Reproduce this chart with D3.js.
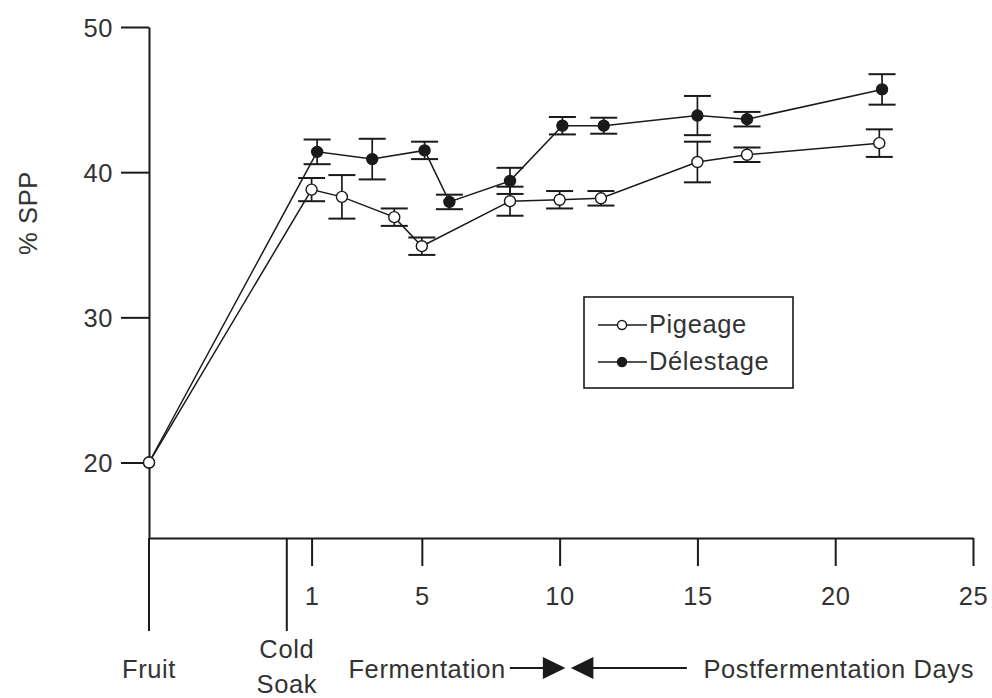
<!DOCTYPE html>
<html>
<head>
<meta charset="utf-8">
<script src="https://cdn.jsdelivr.net/npm/d3@7"></script>
<style>
  html, body { margin: 0; padding: 0; background: #fff; }
  svg { display: block; }
  text { font-family: "Liberation Sans", Arial, sans-serif; font-size: 25.5px; letter-spacing: 0.6px; fill: #333; }
</style>
</head>
<body>
<svg id="chart" width="992" height="698"></svg>
<script>
// Stage markers on the time axis (Fruit, Cold Soak) and numeric day ticks
const stageLabels = [["Fruit"], ["Cold", "Soak"]];
const stageDays = [-4.9, 0.1];
const dayTicks = [1, 5, 10, 15, 20, 25];
const sppTicks = [20, 30, 40, 50];
const fermentationEndDay = 10.3;

// Pigeage: % SPP and error (±) per sampling day
const pigeageDays = [-4.9, 1.0, 2.1, 4.0, 5.0, 8.2, 10.0, 11.5, 15.0, 16.8, 21.6];
const pigeageSPP  = [20, 38.8, 38.3, 36.9, 34.9, 38.0, 38.1, 38.2, 40.7, 41.2, 42.0];
const pigeageErr  = [0, 0.8, 1.5, 0.6, 0.6, 1.0, 0.6, 0.5, 1.4, 0.5, 0.95];

// Délestage: % SPP and error (±) per sampling day
const delestageDays = [-4.9, 1.2, 3.2, 5.1, 6.0, 8.2, 10.1, 11.6, 15.0, 16.8, 21.7];
const delestageSPP  = [20, 41.4, 40.9, 41.5, 37.95, 39.4, 43.2, 43.2, 43.9, 43.65, 45.7];
const delestageErr  = [0, 0.85, 1.4, 0.6, 0.5, 0.9, 0.6, 0.55, 1.35, 0.5, 1.05];

const ink = "#1a1a1a";
const textInk = "#333";
const svg = d3.select("#chart");

const x = d3.scaleLinear().domain([-4.9, 25]).range([149, 973]);
const y = d3.scaleLinear().domain([14.8, 50]).range([538, 27]);

// Y axis
const yAxis = svg.append("g")
  .attr("transform", `translate(${x(-4.9)},0)`)
  .call(d3.axisLeft(y).tickValues(sppTicks).tickSize(28).tickSizeOuter(0).tickPadding(8).tickFormat(d3.format("d")));
yAxis.select(".domain").attr("stroke", ink).attr("stroke-width", 2);
yAxis.selectAll(".tick line").attr("stroke", ink).attr("stroke-width", 2);
yAxis.selectAll(".tick text").attr("font-size", null).attr("font-family", null).attr("fill", textInk).attr("dy", "0.36em");

// X axis
const xAxis = svg.append("g")
  .attr("transform", `translate(0,${y(14.8)})`)
  .call(d3.axisBottom(x).tickValues(dayTicks).tickSize(28).tickSizeOuter(0).tickFormat(d3.format("d")));
xAxis.select(".domain").attr("stroke", ink).attr("stroke-width", 2);
xAxis.selectAll(".tick line").attr("stroke", ink).attr("stroke-width", 2);
xAxis.selectAll(".tick text").attr("font-size", null).attr("font-family", null).attr("fill", textInk)
  .attr("y", 67).attr("dy", 0);

// Long stage ticks with their labels
const stages = stageDays.map((d, i) => ({ day: d, lines: stageLabels[i] }));
const stageG = svg.append("g").selectAll("g").data(stages).join("g")
  .attr("transform", d => `translate(${x(d.day)},${y(14.8)})`);
stageG.append("line").attr("y1", 0).attr("y2", 93).attr("stroke", ink).attr("stroke-width", 2);
stageG.each(function (d) {
  const g = d3.select(this);
  const base = d.lines.length === 1 ? 140 : 120;
  d.lines.forEach((t, k) => {
    g.append("text").attr("text-anchor", "middle").attr("x", 0).attr("y", base + k * 35).text(t);
  });
});

// Fermentation / Postfermentation phase labels with converging arrows
const bx = x(fermentationEndDay);
const ay = 668;
const phase = svg.append("g");
phase.append("text").attr("text-anchor", "end").attr("x", bx - 62).attr("y", 678).text("Fermentation");
phase.append("line").attr("x1", bx - 58).attr("x2", bx - 24).attr("y1", ay).attr("y2", ay).attr("stroke", ink).attr("stroke-width", 2);
phase.append("path").attr("d", `M${bx - 25},${ay - 11}L${bx - 2.5},${ay}L${bx - 25},${ay + 11}Z`).attr("fill", ink);
phase.append("path").attr("d", `M${bx + 25.5},${ay - 11}L${bx + 3},${ay}L${bx + 25.5},${ay + 11}Z`).attr("fill", ink);
phase.append("line").attr("x1", bx + 24).attr("x2", bx + 119).attr("y1", ay).attr("y2", ay).attr("stroke", ink).attr("stroke-width", 2);
phase.append("text").attr("text-anchor", "end").attr("x", x(25) + 1).attr("y", 678).text("Postfermentation Days");

// Y axis title
svg.append("text").attr("text-anchor", "middle")
  .attr("transform", "translate(37,213) rotate(-90)").text("% SPP");

// Series
const series = [
  { name: "Délestage", fill: ink, days: delestageDays, vals: delestageSPP, errs: delestageErr },
  { name: "Pigeage", fill: "#fff", days: pigeageDays, vals: pigeageSPP, errs: pigeageErr }
].map(s => ({ ...s, pts: s.days.map((d, i) => ({ d, v: s.vals[i], e: s.errs[i] })) }));

const line = d3.line().x(p => x(p.d)).y(p => y(p.v));
const capHalf = 13.5;

series.forEach(s => {
  const g = svg.append("g");
  g.append("path").datum(s.pts).attr("d", line).attr("fill", "none").attr("stroke", ink).attr("stroke-width", 1.5);
  const eb = g.selectAll("g.eb").data(s.pts.filter(p => p.e > 0)).join("g").attr("class", "eb");
  eb.append("line").attr("x1", p => x(p.d)).attr("x2", p => x(p.d))
    .attr("y1", p => y(p.v + p.e)).attr("y2", p => y(p.v - p.e)).attr("stroke", ink).attr("stroke-width", 1.7);
  [1, -1].forEach(sgn => {
    eb.append("line").attr("x1", p => x(p.d) - capHalf).attr("x2", p => x(p.d) + capHalf)
      .attr("y1", p => y(p.v + sgn * p.e)).attr("y2", p => y(p.v + sgn * p.e))
      .attr("stroke", ink).attr("stroke-width", 2);
  });
});
series.forEach(s => {
  svg.append("g").selectAll("circle").data(s.pts).join("circle")
    .attr("cx", p => x(p.d)).attr("cy", p => y(p.v)).attr("r", 5.5)
    .attr("fill", s.fill).attr("stroke", ink).attr("stroke-width", 1.4);
});

// Legend
const legend = svg.append("g").attr("transform", "translate(584,297)");
legend.append("rect").attr("width", 209).attr("height", 91).attr("fill", "#fff").attr("stroke", ink).attr("stroke-width", 1.6);
const legendItems = [series[1], series[0]];
const li = legend.selectAll("g.item").data(legendItems).join("g").attr("class", "item")
  .attr("transform", (d, i) => `translate(0,${28 + i * 37})`);
li.append("line").attr("x1", 14).attr("x2", 63).attr("stroke", ink).attr("stroke-width", 1.5);
li.append("circle").attr("cx", 38).attr("r", 4.5).attr("fill", d => d.fill).attr("stroke", ink).attr("stroke-width", 1.4);
li.append("text").attr("x", 65).attr("y", 8).text(d => d.name);
</script>
</body>
</html>
